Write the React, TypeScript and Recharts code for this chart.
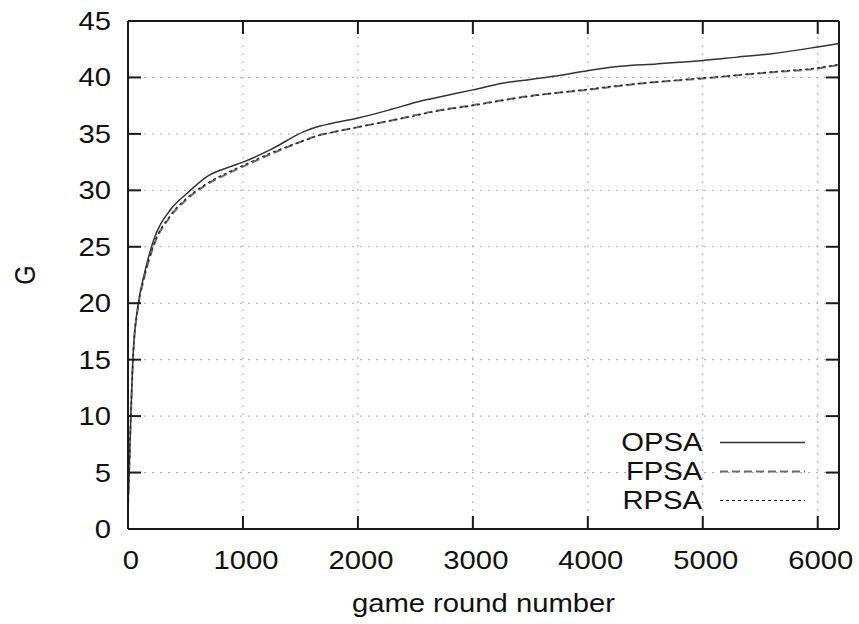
import React from 'react';
import { LineChart, Line, XAxis, YAxis, CartesianGrid, Legend } from 'recharts';

// ---- data ----
const rounds = [0, 10, 25, 45, 90, 140, 220, 370, 510, 700, 890, 1000, 1240, 1530, 1670, 1760, 2000, 2300, 2540, 2630, 3000, 3320, 3410, 3700, 4000, 4280, 4600, 5000, 5300, 5600, 6000, 6185];
const opsa = [2, 5, 10, 15.5, 20, 22.5, 25.5, 28.3, 29.7, 31.3, 32.1, 32.5, 33.6, 35.2, 35.7, 35.9, 36.4, 37.2, 37.9, 38.1, 38.9, 39.6, 39.7, 40.1, 40.6, 41.0, 41.2, 41.5, 41.8, 42.1, 42.7, 43.0];
const fpsa = [2, 5, 10, 15.3, 19.8, 22.2, 25.0, 27.7, 29.2, 30.6, 31.6, 32.1, 33.2, 34.4, 34.9, 35.1, 35.6, 36.2, 36.75, 36.95, 37.55, 38.1, 38.25, 38.6, 38.9, 39.25, 39.6, 39.9, 40.2, 40.45, 40.8, 41.1];
const rpsa = [2, 5.2, 10.3, 15.4, 19.9, 22.3, 25.1, 27.8, 29.3, 30.7, 31.7, 32.2, 33.3, 34.4, 34.9, 35.1, 35.6, 36.2, 36.7, 36.9, 37.5, 38.05, 38.2, 38.6, 38.95, 39.3, 39.6, 39.95, 40.2, 40.5, 40.85, 41.15];

const xTicks = [0, 1000, 2000, 3000, 4000, 5000, 6000];
const yTicks = [0, 5, 10, 15, 20, 25, 30, 35, 40, 45];
const xDomain: [number, number] = [0, 6185];
const yDomain: [number, number] = [0, 45];
const seriesNames = ['OPSA', 'FPSA', 'RPSA'];
const xLabel = 'game round number';
const yLabel = 'G';

const data = rounds.map((r, i) => ({ x: r, OPSA: opsa[i], FPSA: fpsa[i], RPSA: rpsa[i] }));

// ---- styles ----
const FONT = '"Liberation Sans", Arial, Helvetica, sans-serif';
const FS = 25;
const SX = 1.17;
const TICK_LEN = 13;
const FRAME = '#1a1a1a';
const TICK_COLOR = '#1a1a1a';
const TXT = '#111';

const seriesStyle: Record<string, { stroke: string; width: number; dash?: string }> = {
  OPSA: { stroke: '#333', width: 1.5 },
  FPSA: { stroke: '#6a6a6a', width: 2, dash: '8 4' },
  RPSA: { stroke: '#222', width: 1.2, dash: '3 3' },
};

const LeftTick = (props: any) => {
  const { x, y, payload } = props;
  return (
    <g>
      <path d={`M${x},${y}h${TICK_LEN}`} stroke={TICK_COLOR} strokeWidth={2} fill="none" />
      <text
        transform={`translate(${x - 17},${y}) scale(${SX},1)`}
        textAnchor="end"
        dy="0.36em"
        fontFamily={FONT}
        fontSize={FS}
        fill={TXT}
      >
        {payload.value}
      </text>
    </g>
  );
};

const RightTick = (props: any) => {
  const { x, y } = props;
  return <path d={`M${x - TICK_LEN},${y}h${TICK_LEN}`} stroke={TICK_COLOR} strokeWidth={2} fill="none" />;
};

const BottomTick = (props: any) => {
  const { x, y, payload } = props;
  return (
    <g>
      <path d={`M${x},${y}v${-TICK_LEN}`} stroke={TICK_COLOR} strokeWidth={2} fill="none" />
      <text
        transform={`translate(${x + 3},${y + 40}) scale(${SX},1)`}
        textAnchor="middle"
        fontFamily={FONT}
        fontSize={FS}
        fill={TXT}
      >
        {payload.value}
      </text>
    </g>
  );
};

const TopTick = (props: any) => {
  const { x, y } = props;
  return <path d={`M${x},${y}v${TICK_LEN}`} stroke={TICK_COLOR} strokeWidth={2} fill="none" />;
};

const XLabel = (props: any) => {
  const vb = props.viewBox || {};
  return (
    <text
      transform={`translate(${vb.x + vb.width / 2},${vb.y + 83}) scale(${SX},1)`}
      textAnchor="middle"
      fontFamily={FONT}
      fontSize={FS}
      fill={TXT}
    >
      {xLabel}
    </text>
  );
};

const YLabel = (props: any) => {
  const vb = props.viewBox || {};
  return (
    <text
      transform={`translate(24,${vb.y + vb.height / 2}) scale(${SX},1) rotate(-90)`}
      textAnchor="middle"
      dy="0.36em"
      fontFamily={FONT}
      fontSize={FS}
      fill={TXT}
    >
      {yLabel}
    </text>
  );
};

const LegendContent = () => (
  <div style={{ fontFamily: FONT }}>
    {seriesNames.map((name) => {
      const st = seriesStyle[name];
      return (
        <div key={name} style={{ display: 'flex', alignItems: 'center', height: 29 }}>
          <div style={{ width: 122, textAlign: 'right', fontSize: FS, lineHeight: '29px', color: TXT }}>
            <span style={{ display: 'inline-block', transform: `scaleX(${SX})`, transformOrigin: '100% 50%' }}>{name}</span>
          </div>
          <svg width={103} height={29} style={{ display: 'block' }}>
            <line
              x1={18}
              y1={14.5}
              x2={103}
              y2={14.5}
              stroke={st.stroke}
              strokeWidth={st.width}
              strokeDasharray={st.dash}
            />
          </svg>
        </div>
      );
    })}
  </div>
);

export default function App() {
  return (
    <div style={{ position: 'absolute', left: 0, top: 0, width: 859, height: 624, background: '#fff' }}>
      <LineChart width={859} height={624} data={data} margin={{ top: 20, right: 19, bottom: 0, left: 0 }}>
        <CartesianGrid stroke="#aaa" strokeWidth={1} strokeDasharray="2 6" />
        <XAxis
          dataKey="x"
          type="number"
          domain={xDomain}
          ticks={xTicks}
          allowDataOverflow
          height={95}
          tickSize={0}
          tickMargin={0}
          tickLine={false}
          tick={BottomTick}
          axisLine={{ stroke: FRAME, strokeWidth: 2 }}
          label={<XLabel />}
        />
        <XAxis
          xAxisId="top"
          orientation="top"
          dataKey="x"
          type="number"
          domain={xDomain}
          ticks={xTicks}
          allowDataOverflow
          height={1}
          tickSize={0}
          tickMargin={0}
          tickLine={false}
          tick={TopTick}
          axisLine={{ stroke: FRAME, strokeWidth: 2 }}
        />
        <YAxis
          type="number"
          domain={yDomain}
          ticks={yTicks}
          allowDataOverflow
          width={128}
          tickSize={0}
          tickMargin={0}
          tickLine={false}
          tick={LeftTick}
          axisLine={{ stroke: FRAME, strokeWidth: 2 }}
          label={<YLabel />}
        />
        <YAxis
          yAxisId="right"
          orientation="right"
          type="number"
          domain={yDomain}
          ticks={yTicks}
          allowDataOverflow
          width={1}
          tickSize={0}
          tickMargin={0}
          tickLine={false}
          tick={RightTick}
          axisLine={{ stroke: FRAME, strokeWidth: 2 }}
        />
        {seriesNames.map((name) => {
          const st = seriesStyle[name];
          return (
            <Line
              key={name}
              dataKey={name}
              type="monotone"
              stroke={st.stroke}
              strokeWidth={st.width}
              strokeDasharray={st.dash}
              dot={false}
              activeDot={false}
              isAnimationActive={false}
            />
          );
        })}
        <Legend
          layout="vertical"
          align="center"
          verticalAlign="middle"
          wrapperStyle={{ position: 'absolute', left: 580, top: 428, width: 240 }}
          content={<LegendContent />}
        />
      </LineChart>
    </div>
  );
}
